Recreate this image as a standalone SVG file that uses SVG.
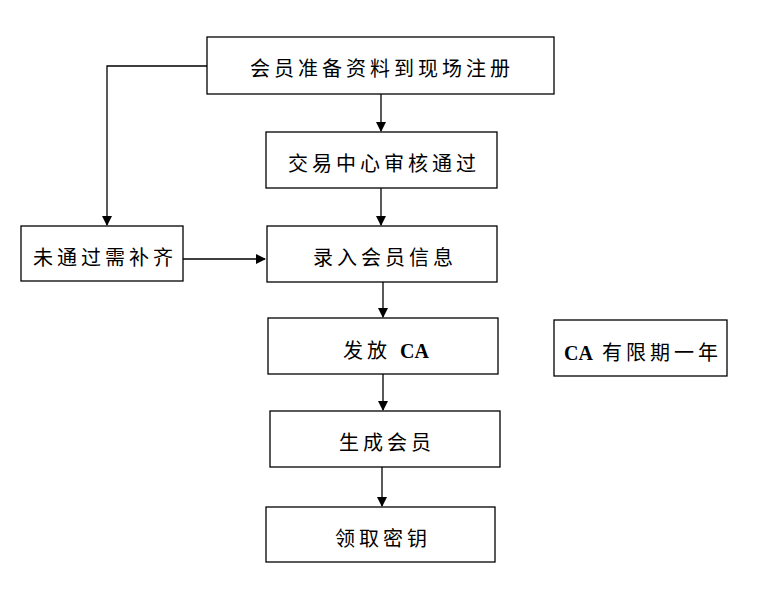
<svg xmlns="http://www.w3.org/2000/svg" width="768" height="591" viewBox="0 0 768 591">
<style>
.box{fill:#fff;stroke:#000;stroke-width:1.3}
.t{font-family:"Liberation Serif","Noto Sans CJK SC",serif;font-size:20px;fill:#000;text-anchor:middle;letter-spacing:4px}
.b{font-weight:bold;letter-spacing:0}
.c{fill:none;stroke:#000;stroke-width:1.3}
</style>
<defs>
<marker id="ah" markerWidth="10" markerHeight="10" refX="9" refY="5" orient="auto" markerUnits="userSpaceOnUse">
<path d="M0,0 L10,5 L0,10 Z" fill="#000"/>
</marker>
</defs>
<rect width="768" height="591" fill="#fff"/>
<g id="connectors">
<path class="c" d="M207,66 H107 V225" marker-end="url(#ah)"/>
<path class="c" d="M381,94 V131" marker-end="url(#ah)"/>
<path class="c" d="M381,188 V225" marker-end="url(#ah)"/>
<path class="c" d="M183,259 H265" marker-end="url(#ah)"/>
<path class="c" d="M383,282 V317" marker-end="url(#ah)"/>
<path class="c" d="M383,374 V410" marker-end="url(#ah)"/>
<path class="c" d="M382,467 V506" marker-end="url(#ah)"/>
</g>
<g id="n1"><rect class="box" x="207" y="37" width="347" height="57"/><text class="t" x="382" y="76">会员准备资料到现场注册</text></g>
<g id="n2"><rect class="box" x="266" y="132" width="231" height="56"/><text class="t" x="384" y="171">交易中心审核通过</text></g>
<g id="n3"><rect class="box" x="21" y="226" width="162" height="55"/><text class="t" x="105" y="265">未通过需补齐</text></g>
<g id="n4"><rect class="box" x="267" y="226" width="230" height="56"/><text class="t" x="385" y="265">录入会员信息</text></g>
<g id="n5"><rect class="box" x="268" y="318" width="230" height="56"/><text class="t" x="386" y="358">发放 <tspan class="b">CA</tspan></text></g>
<g id="n6"><rect class="box" x="554" y="320" width="173" height="56"/><text class="t" x="643" y="360"><tspan class="b">CA</tspan> 有限期一年</text></g>
<g id="n7"><rect class="box" x="270" y="411" width="230" height="56"/><text class="t" x="387" y="450">生成会员</text></g>
<g id="n8"><rect class="box" x="266" y="507" width="229" height="55"/><text class="t" x="383" y="546">领取密钥</text></g>
</svg>
